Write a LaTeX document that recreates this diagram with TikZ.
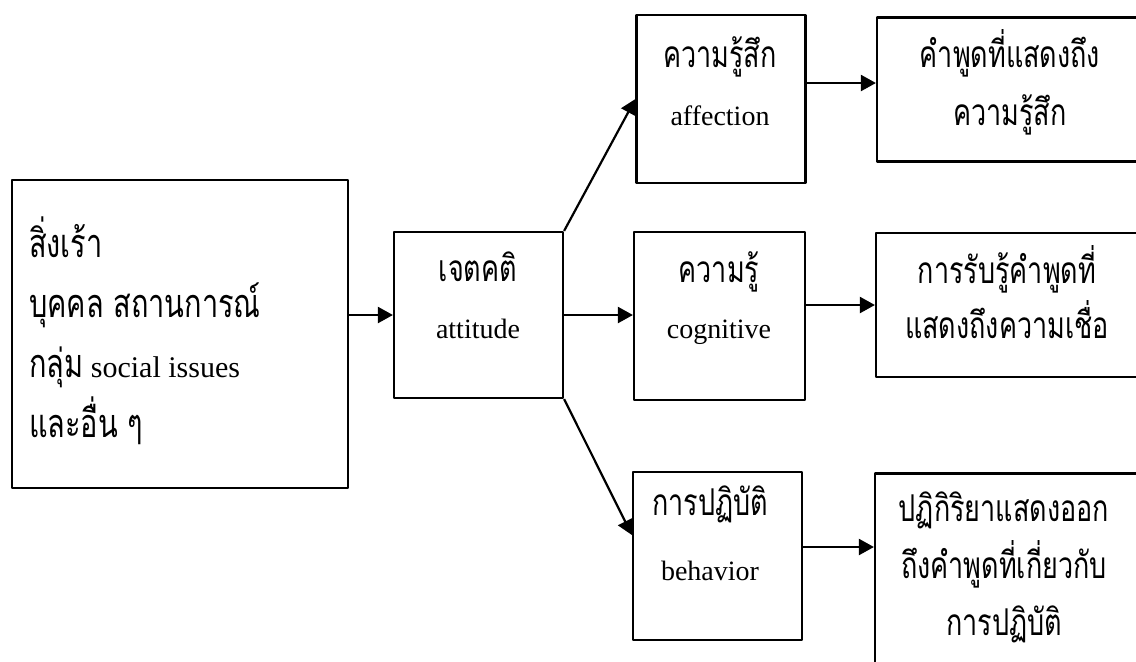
\documentclass[tikz,border=0pt]{standalone}
\usepackage{fontspec}
\setmainfont{Liberation Serif}
\newfontfamily\thaifont[Script=Thai,Scale=1.32,FakeStretch=0.73]{Loma}
\usetikzlibrary{arrows.meta}
\begin{document}
\begin{tikzpicture}[x=0.5pt,y=-0.5pt,>={Triangle[length=7.5pt,width=8pt]},line width=1.1pt,line join=round,
	box/.style={draw,rectangle,inner sep=0pt},
	lbl/.style={align=center,anchor=base,inner sep=0pt,font=\fontsize{14}{29}\selectfont}]
		\useasboundingbox (0,0) rectangle (1136,661);
		\clip (0,0) rectangle (1136,661);
		% boxes
		\node[box,minimum width=168pt,minimum height=154pt] (src) at (180,334) {};
		\node[box,minimum width=84.5pt,minimum height=83pt] (att) at (478.5,315) {};
		\node[box,minimum width=84.5pt,minimum height=84pt] (aff) at (721,99) {};
		\node[box,minimum width=85.5pt,minimum height=84pt] (cog) at (719.5,316) {};
		\node[box,minimum width=84.5pt,minimum height=84pt] (beh) at (717.5,556) {};
		\node[box,minimum width=133pt,minimum height=72pt] (out1) at (1010,89.5) {};
		\node[box,minimum width=133.5pt,minimum height=72pt] (out2) at (1009.5,305) {};
		\node[box,minimum width=134pt,minimum height=108pt] (out3) at (1009,581.5) {};
		% texts (placed at the baseline of their last line)
		\node[lbl,align=left,anchor=base west,font=\fontsize{15}{30}\selectfont] (srct) at (28,437)
			{{\thaifont สิ่งเร้า}\\{\thaifont บุคคล สถานการณ์}\\{\thaifont กลุ่ม} social issues\\{\thaifont และอื่น ๆ}};
		\node[lbl,font=\fontsize{14}{28.3}\selectfont] (attt) at (478,338) {{\thaifont เจตคติ}\\attitude};
		\node[lbl] (afft) at (720,125) {{\thaifont ความรู้สึก}\\affection};
		\node[lbl,font=\fontsize{14}{28}\selectfont] (cogt) at (719,338) {{\thaifont ความรู้}\\cognitive};
		\node[lbl,font=\fontsize{14}{32.5}\selectfont] (beht) at (710,580) {{\thaifont การปฏิบัติ}\\behavior};
		\node[lbl] (out1t) at (1010,125) {\thaifont คำพูดที่แสดงถึง\\\thaifont ความรู้สึก};
		\node[lbl,font=\fontsize{14}{27.5}\selectfont] (out2t) at (1007,338) {\thaifont การรับรู้คำพูดที่\\\thaifont แสดงถึงความเชื่อ};
		\node[lbl,font=\fontsize{14}{28.3}\selectfont] (out3t) at (1004,635)
			{\thaifont ปฏิกิริยาแสดงออก\\\thaifont ถึงคำพูดที่เกี่ยวกับ\\\thaifont การปฏิบัติ};
		% arrows
		\draw[->] (att.west -| src.east) -- (att.west);
		\draw[->] (att.north east) -- (aff.west);
		\draw[->] (att.east) -- (att.east -| cog.west);
		\draw[->] (att.south east) -- ([yshift=10.5pt]beh.west);
		\draw[->] ([yshift=8pt]aff.east) -- ([yshift=8pt]aff.east -| out1.west);
		\draw[->] ([yshift=5.5pt]cog.east) -- ([yshift=5.5pt]cog.east -| out2.west);
		\draw[->] ([yshift=4.5pt]beh.east) -- ([yshift=4.5pt]beh.east -| out3.west);
\end{tikzpicture}
\end{document}
